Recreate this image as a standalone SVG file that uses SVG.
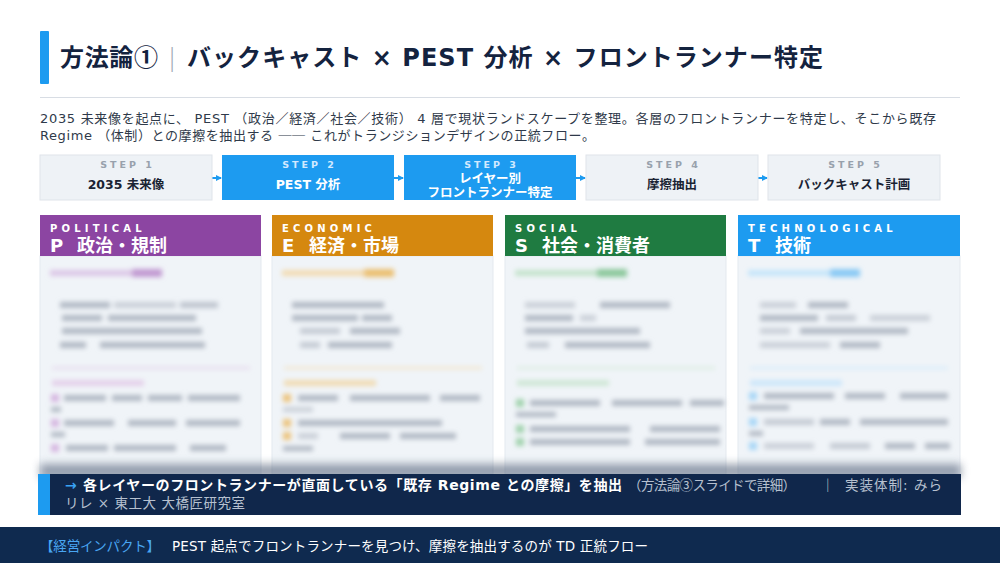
<svg xmlns="http://www.w3.org/2000/svg" width="1000" height="563" viewBox="0 0 1000 563">
<defs>
<style>
text{font-family:"DejaVu Sans","Noto Sans CJK JP",sans-serif;}
.cjk{font-family:"Noto Sans CJK JP",sans-serif;}
.title{font-size:24px;font-weight:700;fill:#14233f;}
.desc{font-size:13px;fill:#2f3a4a;}
.slab{font-size:9.5px;font-weight:700;letter-spacing:3px;fill:#98a1ac;}
.slabA{font-size:9.5px;font-weight:700;letter-spacing:3px;fill:#d2e9ff;}
.stxt{font-size:12.5px;font-weight:700;fill:#1a2333;}
.stxtA{font-size:12.5px;font-weight:700;fill:#ffffff;}
.boxI{fill:#eef2f6;stroke:#dfe4ea;stroke-width:1;}
.boxA{fill:#1d9bf0;}
.arrow{stroke:#1d9bf0;stroke-width:2;fill:none;}
.hsmall{font-size:10px;font-weight:700;letter-spacing:4.2px;fill:#ffffff;}
.hbig{font-size:18px;font-weight:700;fill:#ffffff;}
.body{fill:#f0f4f8;stroke:#e4e9ef;stroke-width:1;}
.g{fill:#b0b8c3;}
.bw{font-size:14px;font-weight:700;fill:#ffffff;}
.bg{font-size:13.5px;fill:#b6c0cf;}
</style>
<filter id="blur" x="-10%" y="-10%" width="120%" height="120%"><feGaussianBlur stdDeviation="2.7"/></filter>
<filter id="shadow" x="-10%" y="-200%" width="120%" height="500%"><feGaussianBlur stdDeviation="4"/></filter>
<marker id="ah" markerWidth="6" markerHeight="6" refX="5" refY="3" orient="auto" markerUnits="userSpaceOnUse">
<path d="M0,0 L6,3 L0,6 Z" fill="#1d9bf0"/>
</marker>
</defs>
<rect width="1000" height="563" fill="#ffffff"/>

<g id="header">
<rect x="40" y="31" width="9" height="53" fill="#1d9bf0" rx="1"/>
<text class="title cjk" x="60" y="66" textLength="98" lengthAdjust="spacing">方法論①</text>
<text x="168" y="66" style="font-size:24px;fill:#a0a8b4;font-weight:300">|</text>
<text class="title" x="187" y="66" textLength="636" lengthAdjust="spacing">バックキャスト × PEST 分析 ×  フロントランナー特定</text>
<line x1="40" y1="97.5" x2="960" y2="97.5" stroke="#d8dde4" stroke-width="1"/>
<text class="desc" x="40" y="123" textLength="896" lengthAdjust="spacing">2035 未来像を起点に、 PEST （政治／経済／社会／技術） 4 層で現状ランドスケープを整理。各層のフロントランナーを特定し、そこから既存</text>
<text class="desc" x="40" y="140" textLength="555" lengthAdjust="spacing">Regime （体制）との摩擦を抽出する <tspan class="cjk">──</tspan> これがトランジションデザインの正統フロー。</text>
</g>

<g id="connectors">
<line class="arrow" x1="210" y1="178" x2="221" y2="178" marker-end="url(#ah)"/>
<line class="arrow" x1="392" y1="178" x2="403" y2="178" marker-end="url(#ah)"/>
<line class="arrow" x1="574" y1="178" x2="585" y2="178" marker-end="url(#ah)"/>
<line class="arrow" x1="756" y1="178" x2="767" y2="178" marker-end="url(#ah)"/>
</g>

<g id="step1">
<rect class="boxI" x="40" y="155" width="172" height="45"/>
<text class="slab" x="127.5" y="168" text-anchor="middle">STEP 1</text>
<text class="stxt" x="126" y="189" text-anchor="middle">2035 未来像</text>
</g>
<g id="step2">
<rect class="boxA" x="222" y="155" width="172" height="45"/>
<text class="slabA" x="309.5" y="168" text-anchor="middle">STEP 2</text>
<text class="stxtA" x="308" y="189" text-anchor="middle">PEST 分析</text>
</g>
<g id="step3">
<rect class="boxA" x="404" y="155" width="172" height="45"/>
<text class="slabA" x="491.5" y="168" text-anchor="middle">STEP 3</text>
<text class="stxtA" x="490" y="183" text-anchor="middle">レイヤー別</text>
<text class="stxtA" x="490" y="197" text-anchor="middle">フロントランナー特定</text>
</g>
<g id="step4">
<rect class="boxI" x="586" y="155" width="172" height="45"/>
<text class="slab" x="673.5" y="168" text-anchor="middle">STEP 4</text>
<text class="stxt" x="672" y="189" text-anchor="middle">摩擦抽出</text>
</g>
<g id="step5">
<rect class="boxI" x="768" y="155" width="172" height="45"/>
<text class="slab" x="855.5" y="168" text-anchor="middle">STEP 5</text>
<text class="stxt" x="854" y="189" text-anchor="middle">バックキャスト計画</text>
</g>

<g id="card-p">
<rect class="body" x="40" y="256" width="221" height="218"/>
<rect x="40" y="215" width="221" height="41" fill="#8c45a2"/>
<text class="hsmall" x="50" y="232">POLITICAL</text>
<text class="hbig" x="50" y="252">P<tspan x="77">政治・規制</tspan></text>
<g filter="url(#blur)">
<rect x="50" y="270" width="82" height="6" fill="#dcc6e6"/><rect x="132" y="269" width="30" height="8" fill="#c199d1"/>
<rect class="g" x="60" y="302" width="50" height="6"/><rect class="g" x="114" y="302" width="62" height="6" opacity=".6"/><rect class="g" x="180" y="302" width="38" height="6" opacity=".8"/>
<rect class="g" x="62" y="315" width="40" height="6"/><rect class="g" x="108" y="315" width="88" height="6"/>
<rect class="g" x="62" y="328" width="140" height="6"/>
<rect class="g" x="60" y="342" width="26" height="6"/><rect class="g" x="100" y="342" width="105" height="6"/>
<rect x="52" y="367" width="198" height="2" fill="#e3d1ea"/>
<rect x="52" y="380" width="92" height="6" fill="#e4d0ea"/>
<rect x="51" y="394" width="8" height="8" fill="#d5b6e0"/><rect class="g" x="64" y="395" width="42" height="6"/><rect class="g" x="112" y="395" width="30" height="6"/><rect class="g" x="148" y="395" width="34" height="6"/><rect class="g" x="188" y="395" width="52" height="6"/><rect class="g" x="51" y="407" width="10" height="5"/>
<rect x="51" y="419" width="8" height="8" fill="#d5b6e0"/><rect class="g" x="64" y="420" width="50" height="6"/><rect class="g" x="128" y="420" width="48" height="6"/><rect class="g" x="186" y="420" width="54" height="6"/><rect class="g" x="51" y="432" width="14" height="5"/>
<rect x="51" y="444" width="8" height="8" fill="#d5b6e0"/><rect class="g" x="66" y="445" width="42" height="6"/><rect class="g" x="114" y="445" width="62" height="6"/><rect class="g" x="190" y="445" width="36" height="6"/>
</g>
</g>

<g id="card-e">
<rect class="body" x="272" y="256" width="221" height="218"/>
<rect x="272" y="215" width="221" height="41" fill="#d5880f"/>
<text class="hsmall" x="282" y="232">ECONOMIC</text>
<text class="hbig" x="282" y="252">E<tspan x="309">経済・市場</tspan></text>
<g filter="url(#blur)">
<rect x="282" y="270" width="82" height="6" fill="#f3dcb2"/><rect x="364" y="269" width="30" height="8" fill="#ebbf70"/>
<rect class="g" x="292" y="302" width="92" height="6"/>
<rect class="g" x="292" y="315" width="66" height="6"/><rect class="g" x="362" y="315" width="30" height="6"/>
<rect class="g" x="300" y="328" width="40" height="6" opacity=".7"/><rect class="g" x="350" y="328" width="50" height="6"/>
<rect class="g" x="300" y="342" width="20" height="6" opacity=".7"/><rect class="g" x="328" y="342" width="64" height="6"/>
<rect x="284" y="367" width="198" height="2" fill="#f3e0bd"/>
<rect x="284" y="380" width="92" height="6" fill="#f1dcb3"/>
<rect x="283" y="394" width="8" height="8" fill="#ecc27a"/><rect class="g" x="298" y="395" width="40" height="6"/><rect class="g" x="350" y="395" width="80" height="6"/><rect class="g" x="440" y="395" width="40" height="6"/><rect class="g" x="283" y="407" width="30" height="5" opacity=".6"/>
<rect x="283" y="419" width="8" height="8" fill="#ecc27a"/><rect class="g" x="298" y="420" width="144" height="6"/>
<rect x="283" y="432" width="8" height="8" fill="#ecc27a"/><rect class="g" x="298" y="433" width="20" height="6" opacity=".6"/><rect class="g" x="340" y="433" width="50" height="6"/><rect class="g" x="400" y="433" width="56" height="6"/><rect class="g" x="283" y="446" width="30" height="5"/>
</g>
</g>

<g id="card-s">
<rect class="body" x="505" y="256" width="221" height="218"/>
<rect x="505" y="215" width="221" height="41" fill="#1f7b41"/>
<text class="hsmall" x="515" y="232">SOCIAL</text>
<text class="hbig" x="515" y="252">S<tspan x="542">社会・消費者</tspan></text>
<g filter="url(#blur)">
<rect x="515" y="270" width="82" height="6" fill="#c4e3cc"/><rect x="597" y="269" width="30" height="8" fill="#8bc89b"/>
<rect class="g" x="525" y="302" width="50" height="6" opacity=".6"/><rect class="g" x="600" y="302" width="70" height="6"/>
<rect class="g" x="525" y="315" width="48" height="6"/><rect class="g" x="580" y="315" width="16" height="6" opacity=".6"/>
<rect class="g" x="525" y="328" width="115" height="6"/>
<rect class="g" x="527" y="342" width="22" height="6" opacity=".7"/><rect class="g" x="565" y="342" width="85" height="6"/>
<rect x="517" y="367" width="198" height="2" fill="#d3ead9"/>
<rect x="517" y="380" width="92" height="6" fill="#cfe7d6"/>
<rect x="516" y="399" width="8" height="8" fill="#9fd1ab"/><rect class="g" x="530" y="400" width="70" height="6"/><rect class="g" x="612" y="400" width="70" height="6"/><rect class="g" x="690" y="400" width="34" height="6"/><rect class="g" x="516" y="412" width="40" height="5"/>
<rect x="516" y="425" width="8" height="8" fill="#9fd1ab"/><rect class="g" x="530" y="426" width="100" height="6"/><rect class="g" x="650" y="426" width="70" height="6"/>
<rect x="516" y="438" width="8" height="8" fill="#9fd1ab"/><rect class="g" x="530" y="439" width="100" height="6"/><rect class="g" x="645" y="439" width="75" height="6"/>
</g>
</g>

<g id="card-t">
<rect class="body" x="738" y="256" width="222" height="218"/>
<rect x="738" y="215" width="222" height="41" fill="#1d9bf0"/>
<text class="hsmall" x="748" y="232">TECHNOLOGICAL</text>
<text class="hbig" x="748" y="252">T<tspan x="775">技術</tspan></text>
<g filter="url(#blur)">
<rect x="748" y="270" width="82" height="6" fill="#c5e5fa"/><rect x="830" y="269" width="30" height="8" fill="#88c9f4"/>
<rect class="g" x="760" y="302" width="36" height="6" opacity=".6"/><rect class="g" x="808" y="302" width="40" height="6"/>
<rect class="g" x="760" y="315" width="58" height="6"/><rect class="g" x="826" y="315" width="30" height="6" opacity=".7"/><rect class="g" x="870" y="315" width="60" height="6" opacity=".6"/>
<rect class="g" x="760" y="328" width="30" height="6" opacity=".6"/><rect class="g" x="800" y="328" width="108" height="6"/>
<rect class="g" x="760" y="342" width="70" height="6" opacity=".6"/><rect class="g" x="840" y="342" width="40" height="6"/>
<rect x="750" y="367" width="198" height="2" fill="#cfe8fa"/>
<rect x="750" y="380" width="92" height="6" fill="#cce6fa"/>
<rect x="749" y="392" width="8" height="8" fill="#a6d6f7"/><rect class="g" x="764" y="393" width="70" height="6"/><rect class="g" x="845" y="393" width="40" height="6"/><rect class="g" x="900" y="393" width="48" height="6"/><rect class="g" x="749" y="405" width="40" height="5"/>
<rect x="749" y="418" width="8" height="8" fill="#a6d6f7"/><rect class="g" x="764" y="419" width="50" height="6" opacity=".7"/><rect class="g" x="820" y="419" width="30" height="6"/><rect class="g" x="860" y="419" width="88" height="6"/><rect class="g" x="749" y="431" width="14" height="5"/>
<rect x="749" y="442" width="8" height="8" fill="#a6d6f7"/><rect class="g" x="764" y="443" width="50" height="6" opacity=".6"/><rect class="g" x="830" y="443" width="40" height="6" opacity=".7"/><rect class="g" x="885" y="443" width="30" height="6"/><rect class="g" x="925" y="443" width="25" height="6"/>
</g>
</g>

<g id="banner">
<rect x="40" y="464" width="921" height="14" fill="#55647a" opacity="0.6" filter="url(#shadow)"/>
<rect x="40" y="474" width="921" height="41" fill="#10274b"/>
<rect x="38" y="474" width="12" height="41" fill="#1d9bf0"/>
<text class="bw" x="65" y="490" style="fill:#3aa2f5">→</text>
<text class="bw" x="83" y="490" textLength="539" lengthAdjust="spacing">各レイヤーのフロントランナーが直面している「既存 Regime との摩擦」を抽出</text>
<text class="bg cjk" x="628" y="490" textLength="168" lengthAdjust="spacing">（方法論③スライドで詳細）</text>
<text class="bg" x="821" y="490">｜</text>
<text class="bg" x="845" y="490" textLength="97" lengthAdjust="spacing">実装体制: みら</text>
<text class="bg" x="65" y="508" textLength="180" lengthAdjust="spacing">リレ × 東工大 大橋匠研究室</text>
</g>

<g id="footer">
<rect x="0" y="527" width="1000" height="36" fill="#0f2a4f"/>
<text x="40" y="551" style="font-size:13.5px;fill:#49a6f2" textLength="120" lengthAdjust="spacing">【経営インパクト】</text>
<text x="172" y="551" style="font-size:13.5px;fill:#ffffff" textLength="476" lengthAdjust="spacing">PEST 起点でフロントランナーを見つけ、摩擦を抽出するのが TD 正統フロー</text>
</g>
</svg>
